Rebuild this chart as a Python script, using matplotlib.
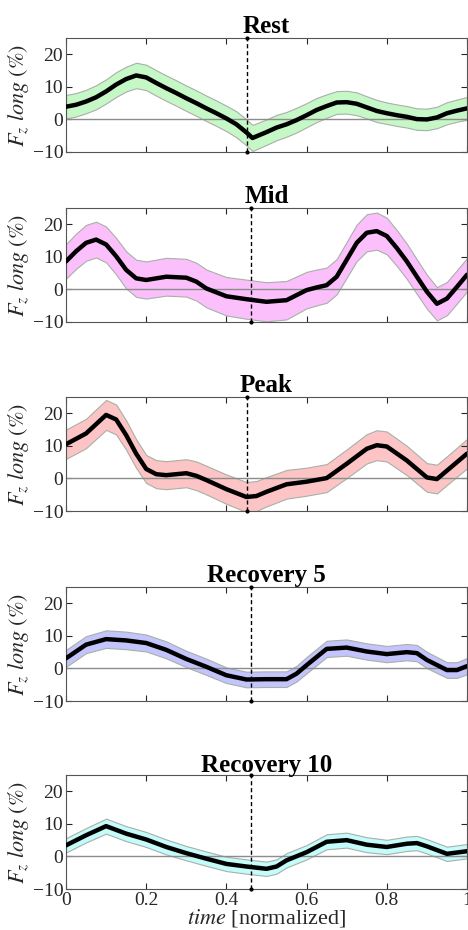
import numpy as np
import matplotlib
matplotlib.use("Agg")
import matplotlib.pyplot as plt

plt.rcParams['font.family'] = ['Liberation Serif', 'DejaVu Serif']
plt.rcParams['mathtext.fontset'] = 'stix'

titles = ["Rest", "Mid", "Peak", "Recovery 5", "Recovery 10"]

t_rest = [0, 0.025, 0.05, 0.075, 0.1, 0.125, 0.15, 0.175, 0.2, 0.225, 0.25, 0.275, 0.3, 0.325, 0.35, 0.375, 0.4, 0.425, 0.45, 0.465, 0.5, 0.525, 0.55, 0.575, 0.6, 0.625, 0.65, 0.675, 0.7, 0.725, 0.75, 0.775, 0.8, 0.825, 0.85, 0.875, 0.9, 0.925, 0.95, 0.975, 1.0]
m_rest = [3.9, 4.5, 5.5, 6.8, 8.6, 10.7, 12.4, 13.5, 12.9, 11.2, 9.6, 8.1, 6.5, 5.0, 3.4, 1.9, 0.3, -1.5, -4.0, -5.7, -3.9, -2.5, -1.5, -0.2, 1.3, 2.9, 4.1, 5.2, 5.3, 4.8, 3.7, 2.6, 1.9, 1.3, 0.8, 0.1, 0.0, 0.6, 1.9, 2.7, 3.4]
s_rest = [3.6, 3.6, 3.6, 3.7, 3.7, 3.8, 3.8, 3.9, 3.9, 3.9, 3.9, 3.9, 3.9, 3.9, 3.9, 3.9, 3.9, 4.0, 4.0, 4.0, 3.9, 3.9, 3.8, 3.8, 3.7, 3.7, 3.6, 3.5, 3.5, 3.5, 3.4, 3.4, 3.3, 3.3, 3.3, 3.3, 3.3, 3.3, 3.4, 3.4, 3.5]

t_mid = [0, 0.025, 0.05, 0.075, 0.1, 0.125, 0.15, 0.175, 0.2, 0.25, 0.3, 0.325, 0.35, 0.4, 0.45, 0.5, 0.55, 0.6, 0.625, 0.65, 0.675, 0.7, 0.725, 0.75, 0.775, 0.8, 0.825, 0.85, 0.875, 0.9, 0.925, 0.95, 0.975, 1.0]
m_mid = [8.6, 11.7, 14.3, 15.3, 13.8, 10.2, 6.0, 3.4, 2.9, 3.9, 3.6, 2.4, 0.3, -2.1, -3.0, -3.8, -3.3, -0.2, 0.6, 1.3, 3.9, 9.1, 14.3, 17.4, 17.9, 16.4, 12.7, 8.6, 3.9, -0.7, -4.4, -2.8, 0.8, 4.5]
s_mid = [5.3, 5.4, 5.5, 5.5, 5.5, 5.6, 5.7, 5.7, 5.7, 5.8, 5.8, 5.8, 5.8, 5.9, 6.0, 6.0, 5.9, 5.6, 5.5, 5.4, 5.4, 5.5, 5.6, 5.7, 5.7, 5.6, 5.5, 5.4, 5.3, 5.2, 5.1, 5.1, 5.1, 5.1]

t_peak = [0, 0.05, 0.1, 0.125, 0.15, 0.175, 0.2, 0.225, 0.25, 0.3, 0.325, 0.35, 0.4, 0.45, 0.475, 0.5, 0.55, 0.6, 0.65, 0.7, 0.75, 0.775, 0.8, 0.85, 0.9, 0.925, 0.95, 1.0]
m_peak = [10.5, 13.8, 19.5, 18.1, 13.3, 7.6, 2.9, 1.3, 1.0, 1.6, 0.8, -0.5, -3.3, -5.7, -5.4, -4.1, -1.8, -1.0, 0.1, 4.5, 9.1, 10.2, 9.8, 5.5, 0.3, -0.2, 2.4, 7.6]
s_peak = [4.5, 4.5, 4.6, 4.6, 4.5, 4.4, 4.3, 4.3, 4.3, 4.3, 4.4, 4.4, 4.5, 4.6, 4.6, 4.5, 4.4, 4.3, 4.3, 4.4, 4.5, 4.6, 4.6, 4.5, 4.4, 4.4, 4.4, 4.5]

t_rec5 = [0, 0.05, 0.1, 0.15, 0.2, 0.25, 0.3, 0.35, 0.4, 0.45, 0.5, 0.55, 0.575, 0.6, 0.65, 0.7, 0.75, 0.8, 0.85, 0.875, 0.9, 0.95, 0.975, 1.0]
m_rec5 = [3.1, 7.3, 9.0, 8.6, 7.8, 5.7, 2.9, 0.5, -2.1, -3.4, -3.3, -3.3, -1.6, 1.0, 6.0, 6.4, 5.2, 4.4, 5.0, 4.7, 2.6, -0.5, -0.5, 0.7]
s_rec5 = [2.6, 2.6, 2.7, 2.7, 2.6, 2.6, 2.5, 2.5, 2.4, 2.4, 2.4, 2.4, 2.4, 2.5, 2.5, 2.5, 2.5, 2.5, 2.5, 2.5, 2.5, 2.4, 2.4, 2.5]

t_rec10 = [0, 0.05, 0.1, 0.15, 0.2, 0.25, 0.3, 0.35, 0.4, 0.45, 0.5, 0.525, 0.55, 0.6, 0.65, 0.7, 0.75, 0.8, 0.85, 0.875, 0.9, 0.95, 1.0]
m_rec10 = [3.4, 6.5, 9.3, 7.0, 5.2, 2.9, 1.0, -0.7, -2.3, -3.1, -3.8, -3.1, -1.2, 1.3, 4.5, 5.0, 3.6, 2.9, 3.9, 4.1, 3.1, 0.8, 1.6]
s_rec10 = [2.2, 2.2, 2.3, 2.3, 2.3, 2.3, 2.2, 2.2, 2.2, 2.2, 2.2, 2.2, 2.2, 2.2, 2.3, 2.3, 2.3, 2.2, 2.2, 2.2, 2.2, 2.2, 2.2]

vlines = [0.451, 0.4625, 0.451, 0.4625, 0.4625]

series = [(t_rest, m_rest, s_rest), (t_mid, m_mid, s_mid), (t_peak, m_peak, s_peak),
          (t_rec5, m_rec5, s_rec5), (t_rec10, m_rec10, s_rec10)]
colors = ['#c6f7c6', '#fbc0fb', '#fcc4c4', '#c4c4fc', '#c4fbfb']

W, H = 468, 930
fig = plt.figure(figsize=(W / 100, H / 100), dpi=100)
tops = [38, 208, 397, 587, 775]
ah = 114
left = 66 / W
width = 401 / W

gray = '#262626'
for i, (tt, mm, ss) in enumerate(series):
    ax = fig.add_axes([left, 1 - (tops[i] + ah) / H, width, ah / H])
    tt = np.array(tt); mm = np.array(mm); ss = np.array(ss)
    ax.fill_between(tt, mm - ss, mm + ss, facecolor=colors[i], edgecolor='#a8b0a8', linewidth=0.8, zorder=1)
    ax.axhline(0, color='#8c8c8c', lw=1.0, zorder=2)
    ax.plot(tt, mm, color='black', lw=3.2, zorder=3, solid_joinstyle='round', solid_capstyle='round')
    ax.plot([vlines[i], vlines[i]], [-10, 25], color='black', ls=(0, (3, 2)), lw=1.0,
            marker='.', markersize=4, zorder=4, clip_on=False)
    ax.set_xlim(0, 1)
    ax.set_ylim(-10, 25)
    ax.set_yticks([-10, 0, 10, 20])
    ax.set_xticks([0, 0.2, 0.4, 0.6, 0.8, 1.0])
    ax.tick_params(direction='in', top=True, right=True, length=4, width=0.8,
                   colors=gray, labelsize=14, pad=2)
    ax.set_yticklabels(['\u221210', '0', '10', '20'])
    if i == 4:
        ax.set_xticklabels(['0', '0.2', '0.4', '0.6', '0.8', '1'])
        ax.set_xlabel(r'$time$ [normalized]', fontsize=16, color=gray, labelpad=-1)
    else:
        ax.set_xticklabels([])
    for sp in ax.spines.values():
        sp.set_color('#555555')
        sp.set_linewidth(0.8)
    ax.set_ylabel(r'$F_z\ long\ (\%)$', fontsize=16, color=gray, labelpad=1)
    ax.set_title(titles[i], fontsize=18, fontweight='bold', pad=2)

fig.savefig('out.png', dpi=100)
